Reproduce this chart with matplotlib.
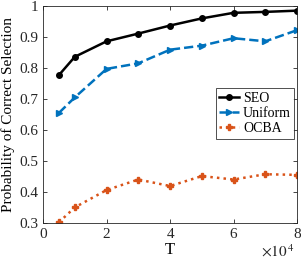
import matplotlib
matplotlib.use("Agg")
import matplotlib.pyplot as plt

T = [5000, 10000, 20000, 30000, 40000, 50000, 60000, 70000, 80000]
seo = [0.777, 0.836, 0.886, 0.911, 0.937, 0.960, 0.978, 0.981, 0.985]
uniform = [0.655, 0.705, 0.797, 0.815, 0.859, 0.872, 0.896, 0.886, 0.922]
ocba = [0.302, 0.350, 0.406, 0.440, 0.419, 0.451, 0.440, 0.457, 0.455]
xticks = [0, 20000, 40000, 60000, 80000]
xticklabels = ["0", "2", "4", "6", "8"]
yticks = [0.3, 0.4, 0.5, 0.6, 0.7, 0.8, 0.9, 1.0]
yticklabels = ["0.3", "0.4", "0.5", "0.6", "0.7", "0.8", "0.9", "1"]

plt.rcParams['font.family'] = ['Liberation Serif', 'DejaVu Serif']
plt.rcParams['mathtext.fontset'] = 'stix'
fig = plt.figure(figsize=(3.01, 2.61), dpi=100)
ax = fig.add_axes([0.143, 0.146, 0.844, 0.831])

ax.plot(T, seo, '-', color='black', marker='o', markersize=4, linewidth=1.8, label='SEO')
ax.plot(T, uniform, '--', color='#0072BD', marker='>', markersize=4.5, linewidth=1.8, label='Uniform')
ax.plot(T, ocba, ':', color='#D95319', marker='P', markersize=4.5, linewidth=1.8, label='OCBA')

ax.set_xlim(0, 80000)
ax.set_ylim(0.3, 1.0)
ax.set_xticks(xticks)
ax.set_xticklabels(xticklabels)
ax.set_yticks(yticks)
ax.set_yticklabels(yticklabels)
ax.tick_params(direction='in', top=True, right=True, labelsize=11, colors='#262626', length=3, width=0.6)
for s in ax.spines.values():
    s.set_color('#262626')
    s.set_linewidth(0.6)
ax.set_xlabel('T', fontsize=12, labelpad=1)
ax.set_ylabel('Probability of Correct Selection', fontsize=11, labelpad=3)
fig.text(0.98, 0.005, r'$\times10^{\,4}$', ha='right', va='bottom', fontsize=11, color='#262626')

leg = ax.legend(loc='upper left', bbox_to_anchor=(0.68, 0.62), fontsize=10, frameon=True, fancybox=False,
                edgecolor='black', borderpad=0.25, labelspacing=0.15, handlelength=1.4, handletextpad=0.3, borderaxespad=0)
leg.get_frame().set_linewidth(0.6)

fig.savefig('out.png', dpi=100)
